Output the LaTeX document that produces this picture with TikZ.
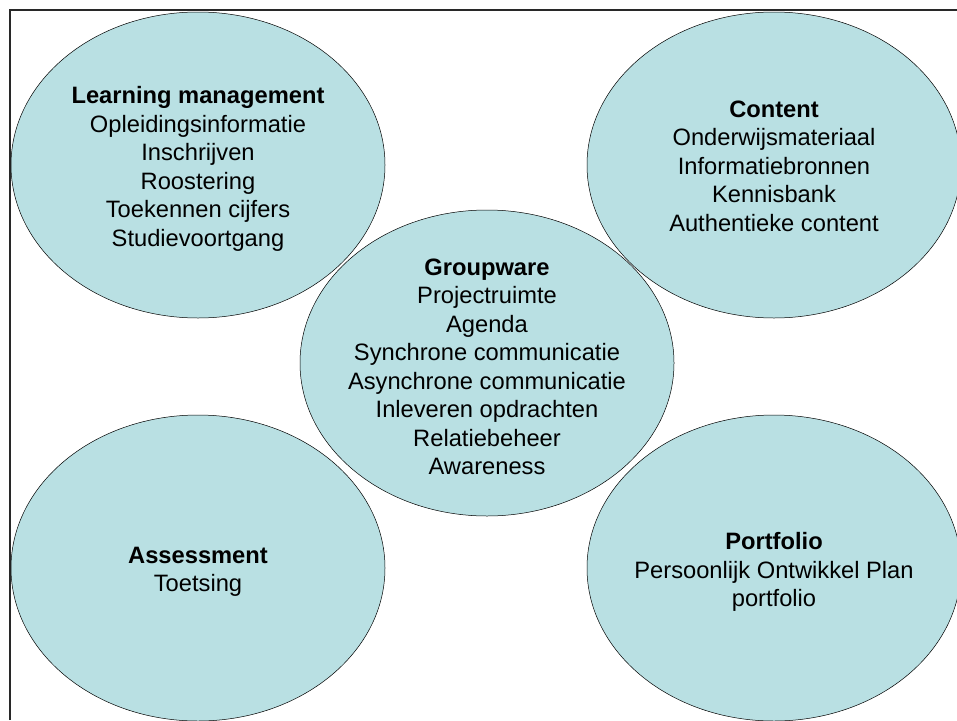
\documentclass[tikz,border=0pt]{standalone}
\usepackage{fontspec}
\setmainfont{Liberation Sans}
\usepackage{xcolor}
\usepackage{tikz}
\usetikzlibrary{positioning, calc}
\definecolor{bubblefill}{RGB}{185,224,227}
\definecolor{framegray}{RGB}{40,40,40}
\tikzset{
    bubble/.style = {fill=bubblefill, draw=black, line width=0.5pt},
    bubbletext/.style = {inner sep=0pt, align=center, yshift=-4pt,
        font=\fontsize{23.7}{28.5}\selectfont},
}

\begin{document}
\begin{tikzpicture}[x=1pt,y=-1pt]
            \useasboundingbox (0,0) rectangle (957,720);
            \draw[framegray, line width=1.2pt] (10,720) -- (10,10) -- (957,10);
            \coordinate (c_lm) at (198,165);
            \coordinate (c_content) at (774,165);
            \coordinate (c_assess) at (198,568);
            \coordinate (c_port) at (774,568);
            \coordinate (c_group) at (487,363);
            \foreach \c in {c_lm, c_content, c_assess, c_port, c_group}
                \draw[bubble] (\c) ellipse [x radius=187pt, y radius=153pt];
            \node (lm) [bubbletext] at (c_lm) {\textbf{Learning management}\\
                Opleidingsinformatie\\ Inschrijven\\ Roostering\\
                Toekennen cijfers\\ Studievoortgang};
            \node (content) [bubbletext, yshift=3pt] at (c_content) {\textbf{Content}\\
                Onderwijsmateriaal\\ Informatiebronnen\\ Kennisbank\\
                Authentieke content};
            \node (groupware) [bubbletext] at (c_group) {\textbf{Groupware}\\
                Projectruimte\\ Agenda\\ Synchrone communicatie\\
                Asynchrone communicatie\\ Inleveren opdrachten\\
                Relatiebeheer\\ Awareness};
            \node (assessment) [bubbletext] at (c_assess) {\textbf{Assessment}\\
                Toetsing};
            \node (portfolio) [bubbletext] at (c_port) {\textbf{Portfolio}\\
                Persoonlijk Ontwikkel Plan\\ portfolio};
            \end{tikzpicture}
\end{document}
